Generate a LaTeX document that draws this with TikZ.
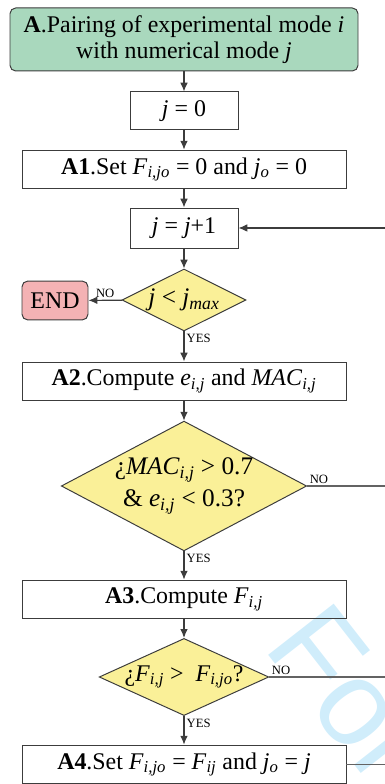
\documentclass[tikz,border=0pt]{standalone}
\usepackage{fontspec}
\setmainfont{Liberation Serif}
\newfontfamily\wzfont{Liberation Sans}
\usetikzlibrary{shapes.geometric,arrows.meta}

\definecolor{startgruen}{RGB}{169,216,189}
\definecolor{endrot}{RGB}{244,178,180}
\definecolor{fragegelb}{RGB}{250,240,152}
\definecolor{liniengrau}{RGB}{60,60,60}
\definecolor{wzblau}{RGB}{208,237,251}

\newcommand{\iv}[1]{\textit{#1}}
\newcommand{\idx}[1]{\textsubscript{\textit{#1}}}

\begin{document}
\begin{tikzpicture}[
    every node/.style={font=\fontsize{17}{18}\selectfont},
    x=1cm, y=1cm,
    kasten/.style={draw=liniengrau, line width=0.7pt, minimum height=0.97cm, inner sep=2pt},
    frage/.style={diamond, draw=liniengrau, line width=0.7pt, fill=fragegelb, inner sep=0pt},
    pfeil/.style={draw=liniengrau, line width=0.8pt, -{Latex[length=2.2mm,width=1.9mm]}},
    verbindung/.style={draw=liniengrau!80, line width=0.8pt},
    marke/.style={font=\fontsize{9}{10}\selectfont, inner sep=1.5pt}
]

% --- Bildrahmen 9.625 x 19.6 cm ---
\useasboundingbox (0,0) rectangle (9.625,19.6);
\clip (0,0) rectangle (9.625,19.6);

% --- Wasserzeichen im Hintergrund ---
\node[font=\wzfont\fontsize{86}{90}\selectfont, text=wzblau, rotate=-52,
      anchor=base west, inner sep=0pt] (wz) at (6.55,3.425) {For};

% --- Kaesten (Mittelachse x=4.6) ---
\node[kasten, fill=startgruen, rounded corners=4pt, minimum width=8.7cm,
      minimum height=1.575cm, align=center] (start) at (4.6,18.6125)
      {\textbf{A}.Pairing of experimental mode \iv{i}\\with numerical mode \iv{j}};
\node[kasten, minimum width=2.7cm, minimum height=0.95cm] (j0) at (4.6,16.825) {\iv{j} = 0};
\node[kasten, minimum width=8.1cm] (a1) at (4.6,15.3625)
      {\textbf{A1}.Set \iv{F}\idx{i,jo} = 0 and \iv{j}\idx{o} = 0};
\node[kasten, minimum width=2.7cm, minimum height=1.0cm] (j1) at (4.6,13.9) {\iv{j} = \iv{j}+1};

% --- Abfrage j < j_max ---
\node[frage, minimum width=3.1cm, minimum height=1.55cm, aspect=2,
      font=\fontsize{18}{20}\selectfont] (d1) at (4.6,12.1)
      {\iv{j} < \iv{j}\idx{max}};
\node[kasten, fill=endrot, rounded corners=4pt, minimum width=1.65cm] (ende) at (1.375,12.0875) {END};

\node[kasten, minimum width=8.1cm, minimum height=0.95cm] (a2) at (4.6,10.075)
      {\textbf{A2}.Compute \iv{e}\idx{i,j} and \iv{MAC}\idx{i,j}};

% --- Abfrage MAC und e ---
\node[frage, minimum width=6.0cm, minimum height=3.175cm, aspect=1.89, align=center,
      font=\fontsize{18}{23}\selectfont] (d2) at (4.6,7.45)
      {¿\iv{MAC}\idx{i,j} > 0.7\\\& \iv{e}\idx{i,j} <\ 0.3?};

\node[kasten, minimum width=8.1cm] (a3) at (4.6,4.6125)
      {\textbf{A3}.Compute \iv{F}\idx{i,j}};

% --- Abfrage F_ij > F_ijo ---
\node[frage, minimum width=4.2cm, minimum height=1.9cm, aspect=2.2] (d3) at (4.6,2.675)
      {¿\iv{F}\idx{i,j} >\ \ \iv{F}\idx{i,jo}?};

\node[kasten, minimum width=8.1cm] (a4) at (4.6,0.4875)
      {\textbf{A4}.Set \iv{F}\idx{i,jo} = \iv{F}\idx{ij} and \iv{j}\idx{o} = \iv{j}};

% --- Anschlusspunkte am rechten Rand ---
\coordinate (rand1) at (9.625,13.9);
\coordinate (rand2) at (9.625,7.45);
\coordinate (rand3) at (9.625,2.675);
\coordinate (rand4) at (9.625,0.4875);

% --- Verbindungen ---
\draw[pfeil] (start) -- (j0);
\draw[pfeil] (j0) -- (a1);
\draw[pfeil] (a1) -- (j1);
\draw[pfeil] (j1) -- (d1);
\draw[pfeil] (d1) -- node[marke, above] {NO} (ende);
\draw[pfeil] (d1) -- node[marke, below right, at start] {YES} (a2);
\draw[pfeil] (a2) -- (d2);
\draw[pfeil] (d2) -- node[marke, below right, at start] {YES} (a3);
\draw[pfeil] (a3) -- (d3);
\draw[pfeil] (d3) -- node[marke, below right, at start] {YES} (a4);

% --- Rueckfuehrungen nach rechts ---
\draw[pfeil] (rand1) -- (j1.east);
\draw[verbindung] (d2.east) -- node[marke, above right, at start] {NO} (rand2);
\draw[verbindung] (d3.east) -- node[marke, above right, at start] {NO} (rand3);
\draw[verbindung] (a4.east) -- (rand4);

\end{tikzpicture}
\end{document}
